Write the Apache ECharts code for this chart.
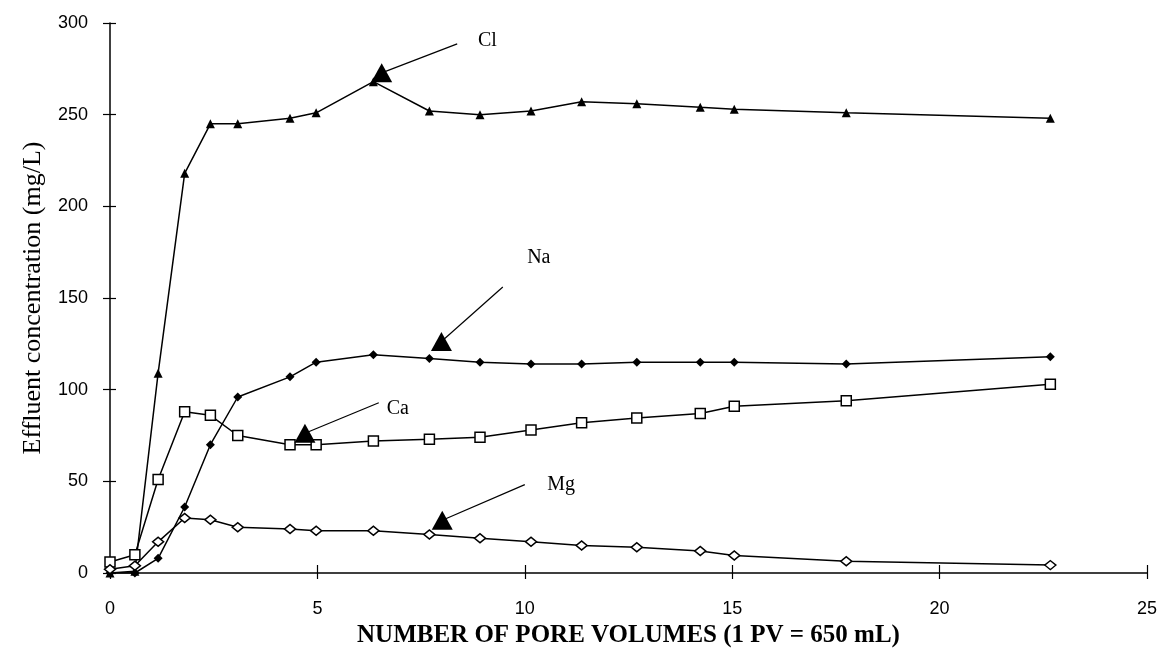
<!DOCTYPE html>
<html>
<head>
<meta charset="utf-8">
<title>Effluent concentration vs pore volumes</title>
<script src="https://cdn.jsdelivr.net/npm/echarts@6/dist/echarts.min.js"></script>
<style>
  html, body { margin: 0; padding: 0; background: #fff; }
  #chart { width: 1160px; height: 658px; }
</style>
</head>
<body>
<div id="chart"></div>
<script>
// Pore volumes passed through the column (x values shared by every ion)
const poreVolumes = [0, 0.6, 1.16, 1.8, 2.42, 3.08, 4.34, 4.97, 6.35, 7.7, 8.92, 10.15, 11.37, 12.7, 14.23, 15.05, 17.75, 22.67];

// Effluent concentrations, mg/L
const chloride  = [0, 1, 109, 218, 245, 245, 248, 251, 268, 252, 250, 252, 257, 256, 254, 253, 251, 248];
const sodium    = [0, 0, 8, 36, 70, 96, 107, 115, 119, 117, 115, 114, 114, 115, 115, 115, 114, 118];
const calcium   = [6, 10, 51, 88, 86, 75, 70, 70, 72, 73, 74, 78, 82, 84.5, 87, 91, 94, 103];
const magnesium = [2, 4, 17, 30, 29, 25, 24, 23, 23, 21, 19, 17, 15, 14, 12, 9.5, 6.4, 4.3];

// Axis ticks
const xTicks = [0, 5, 10, 15, 20, 25];
const yTicks = [0, 50, 100, 150, 200, 250, 300];

// Callout arrows: tail (near the label) and head (near the curve), in data units
const ionNames   = ['Cl', 'Na', 'Ca', 'Mg'];
const arrowTails = [[8.37, 288.6], [9.47, 156], [6.48, 92.9], [10.0, 48.2]];
const arrowHeads = [[6.55, 272.8], [7.99, 126.3], [4.7, 76.2], [8.01, 28.8]];
const labelSpots = [[9.11, 290], [10.35, 171.7], [6.95, 89.2], [10.89, 47.9]];

const pair = (xs, ys) => xs.map((x, i) => [x, ys[i]]);

const serif = '"Liberation Serif", "DejaVu Serif", serif';
const sans = '"Liberation Sans", Arial, sans-serif';

function ionSeries(name, values, symbol, size, filled, idx) {
  return {
    name: name,
    type: 'line',
    data: pair(poreVolumes, values),
    symbol: symbol,
    symbolSize: size,
    showAllSymbol: true,
    lineStyle: { color: '#000', width: 1.5 },
    itemStyle: {
      color: filled ? '#000' : '#fff',
      borderColor: '#000',
      borderWidth: filled ? 0 : 1.5,
      opacity: 1
    },
    emphasis: { disabled: true },
    // shaft of the callout arrow pointing at this curve
    markLine: {
      silent: true,
      animation: false,
      symbol: ['none', 'none'],
      label: { show: false },
      lineStyle: { color: '#000', width: 1.2, type: 'solid', opacity: 1 },
      emphasis: { disabled: true },
      data: [[{ coord: arrowTails[idx] }, { coord: arrowHeads[idx] }]]
    }
  };
}

const chart = echarts.init(document.getElementById('chart'), null, { renderer: 'canvas' });

const xBase = {
  type: 'value',
  min: xTicks[0],
  max: xTicks[xTicks.length - 1],
  interval: 5,
  splitLine: { show: false }
};
const yBase = {
  type: 'value',
  min: yTicks[0],
  max: yTicks[yTicks.length - 1],
  interval: 50,
  splitLine: { show: false }
};

chart.setOption({
  animation: false,
  backgroundColor: '#fff',
  grid: { left: 110, right: 13, top: 23, bottom: 85 },
  xAxis: [
    Object.assign({}, xBase, {
      position: 'bottom',
      name: 'NUMBER OF PORE VOLUMES (1 PV = 650 mL)',
      nameLocation: 'middle',
      nameGap: 48,
      nameTextStyle: { fontFamily: serif, fontWeight: 'bold', fontSize: 25, color: '#000' },
      axisLine: { show: true, lineStyle: { color: '#000', width: 1.5 } },
      axisTick: { show: true, length: 6, lineStyle: { color: '#000', width: 1.2 } },
      axisLabel: { color: '#000', fontFamily: sans, fontSize: 18, margin: 27 }
    }),
    Object.assign({}, xBase, {
      position: 'bottom',
      axisLine: { show: false },
      axisTick: { show: true, inside: true, length: 8, lineStyle: { color: '#000', width: 1.2 } },
      axisLabel: { show: false }
    })
  ],
  yAxis: [
    Object.assign({}, yBase, {
      position: 'left',
      name: 'Effluent concentration (mg/L)',
      nameLocation: 'middle',
      nameGap: 64,
      nameTextStyle: { fontFamily: serif, fontSize: 26, color: '#000' },
      axisLine: { show: true, lineStyle: { color: '#000', width: 1.5 } },
      axisTick: { show: true, length: 7, lineStyle: { color: '#000', width: 1.2 } },
      axisLabel: { color: '#000', fontFamily: sans, fontSize: 18, margin: 22 }
    }),
    Object.assign({}, yBase, {
      position: 'left',
      axisLine: { show: false },
      axisTick: { show: true, inside: true, length: 6, lineStyle: { color: '#000', width: 1.2 } },
      axisLabel: { show: false }
    })
  ],
  series: [
    ionSeries('Cl', chloride, 'triangle', 9, true, 0),
    ionSeries('Na', sodium, 'diamond', 9, true, 1),
    ionSeries('Ca', calcium, 'rect', 10, false, 2),
    ionSeries('Mg', magnesium, 'diamond', [11, 9], false, 3),
    {
      // filled heads of the callout arrows
      name: 'arrow heads',
      type: 'scatter',
      data: arrowHeads,
      symbol: 'triangle',
      symbolSize: [21, 19],
      itemStyle: { color: '#000', opacity: 1 },
      silent: true,
      z: 4
    },
    {
      name: 'callout labels',
      type: 'scatter',
      data: labelSpots.map((p, i) => ({ value: p, name: ionNames[i] })),
      symbol: 'circle',
      symbolSize: 1,
      itemStyle: { color: 'rgba(255,255,255,0)', opacity: 1 },
      silent: true,
      label: {
        show: true,
        position: [0, 0],
        align: 'center',
        verticalAlign: 'middle',
        formatter: p => p.name,
        color: '#000',
        opacity: 1,
        fontFamily: serif,
        fontSize: 20
      },
      z: 5
    }
  ]
});
</script>
</body>
</html>
